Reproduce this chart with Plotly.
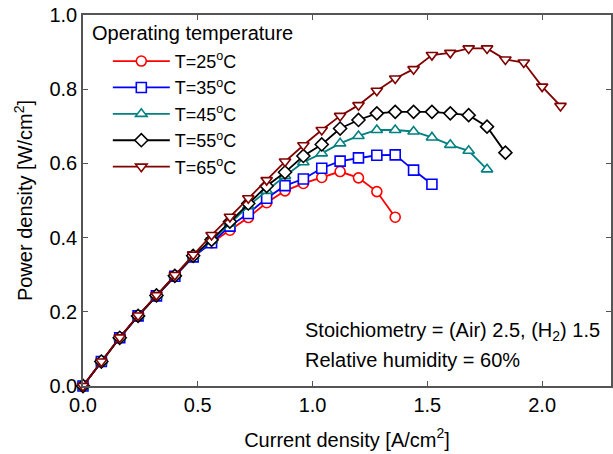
import plotly.graph_objects as go

current_25 = [0.00, 0.08, 0.16, 0.24, 0.32, 0.40, 0.48, 0.56, 0.64, 0.72, 0.80, 0.88, 0.96, 1.04, 1.12, 1.20, 1.28, 1.36]
power_25 = [0.000, 0.066, 0.130, 0.189, 0.243, 0.296, 0.349, 0.386, 0.420, 0.454, 0.494, 0.526, 0.546, 0.562, 0.578, 0.561, 0.524, 0.455]

current_35 = [0.00, 0.08, 0.16, 0.24, 0.32, 0.40, 0.48, 0.56, 0.64, 0.72, 0.80, 0.88, 0.96, 1.04, 1.12, 1.20, 1.28, 1.36, 1.44, 1.52]
power_35 = [0.000, 0.066, 0.130, 0.189, 0.243, 0.296, 0.348, 0.386, 0.431, 0.465, 0.506, 0.540, 0.558, 0.587, 0.606, 0.615, 0.622, 0.623, 0.582, 0.544]

current_45 = [0.00, 0.08, 0.16, 0.24, 0.32, 0.40, 0.48, 0.56, 0.64, 0.72, 0.80, 0.88, 0.96, 1.04, 1.12, 1.20, 1.28, 1.36, 1.44, 1.52, 1.60, 1.68, 1.76]
power_45 = [0.000, 0.066, 0.130, 0.189, 0.244, 0.297, 0.350, 0.392, 0.438, 0.485, 0.526, 0.566, 0.603, 0.627, 0.654, 0.674, 0.690, 0.690, 0.686, 0.670, 0.650, 0.634, 0.584]

current_55 = [0.00, 0.08, 0.16, 0.24, 0.32, 0.40, 0.48, 0.56, 0.64, 0.72, 0.80, 0.88, 0.96, 1.04, 1.12, 1.20, 1.28, 1.36, 1.44, 1.52, 1.60, 1.68, 1.76, 1.84]
power_55 = [0.000, 0.066, 0.130, 0.189, 0.244, 0.297, 0.351, 0.394, 0.443, 0.492, 0.539, 0.576, 0.620, 0.651, 0.694, 0.717, 0.735, 0.739, 0.739, 0.739, 0.735, 0.730, 0.699, 0.629]

current_65 = [0.00, 0.08, 0.16, 0.24, 0.32, 0.40, 0.48, 0.56, 0.64, 0.72, 0.80, 0.88, 0.96, 1.04, 1.12, 1.20, 1.28, 1.36, 1.44, 1.52, 1.60, 1.68, 1.76, 1.84, 1.92, 2.00, 2.08]
power_65 = [0.000, 0.066, 0.131, 0.190, 0.245, 0.299, 0.354, 0.407, 0.456, 0.506, 0.555, 0.605, 0.649, 0.690, 0.728, 0.757, 0.796, 0.829, 0.854, 0.892, 0.898, 0.910, 0.910, 0.880, 0.872, 0.807, 0.755]

series_names = ["T=25<sup>o</sup>C", "T=35<sup>o</sup>C", "T=45<sup>o</sup>C", "T=55<sup>o</sup>C", "T=65<sup>o</sup>C"]
x_tick_vals = [0.0, 0.5, 1.0, 1.5, 2.0]
y_tick_vals = [0.0, 0.2, 0.4, 0.6, 0.8, 1.0]

series = [
    (current_25, power_25, "#ff0000", "circle"),
    (current_35, power_35, "#0000ff", "square"),
    (current_45, power_45, "#008080", "triangle-up"),
    (current_55, power_55, "#000000", "diamond"),
    (current_65, power_65, "#800000", "triangle-down"),
]

fig = go.Figure()
for name, (xs, ys, color, sym) in zip(series_names, series):
    fig.add_trace(go.Scatter(
        x=xs, y=ys, name=name, mode="lines+markers",
        line=dict(color=color, width=1.8),
        marker=dict(symbol=sym, size=10, color="white", line=dict(color=color, width=1.6)),
        cliponaxis=False,
    ))

font = dict(family="Liberation Sans, Arial, sans-serif", size=20, color="black")
legend_font = dict(family="Liberation Sans, Arial, sans-serif", size=18, color="black")

fig.update_layout(
    width=613, height=454,
    margin=dict(l=83, r=2, t=15, b=68, autoexpand=False),
    plot_bgcolor="white", paper_bgcolor="white",
    font=font,
    showlegend=True,
    legend=dict(
        x=0.047, y=0.925, xanchor="left", yanchor="top",
        bgcolor="rgba(0,0,0,0)", borderwidth=0,
        font=legend_font, itemwidth=57, tracegroupgap=0,
    ),
    xaxis=dict(
        range=[0, 2.3], tickvals=x_tick_vals, tickformat=".1f",
        ticks="inside", ticklen=5, tickcolor="#555", mirror="ticks",
        showline=True, linecolor="#555", linewidth=1.5, showgrid=False, zeroline=False,
        title=dict(text="Current density [A/cm<sup>2</sup>]", font=font, standoff=18),
        tickfont=font, automargin=False, ticklabeloverflow="allow",
    ),
    yaxis=dict(
        range=[0, 1.0], tickvals=y_tick_vals, tickformat=".1f",
        ticks="inside", ticklen=5, tickcolor="#555", mirror="ticks",
        showline=True, linecolor="#555", linewidth=1.5, showgrid=False, zeroline=False,
        title=dict(text="Power density [W/cm<sup>2</sup>]", font=font, standoff=11),
        tickfont=font, automargin=False, ticklabeloverflow="allow",
    ),
    annotations=[
        dict(x=0.0133, y=0.9515, xref="paper", yref="paper", xanchor="left", yanchor="middle",
             text="Operating temperature", showarrow=False, font=font),
        dict(x=0.957, y=0.1456, xref="x", yref="y", xanchor="left", yanchor="middle",
             text="Stoichiometry = (Air) 2.5, (H<sub>2</sub>) 1.5", showarrow=False, font=font),
        dict(x=0.957, y=0.070, xref="x", yref="y", xanchor="left", yanchor="middle",
             text="Relative humidity = 60%", showarrow=False, font=font),
    ],
)

fig.write_html("out.html", config={"displayModeBar": False},
               post_script="document.body.style.margin='0';")
